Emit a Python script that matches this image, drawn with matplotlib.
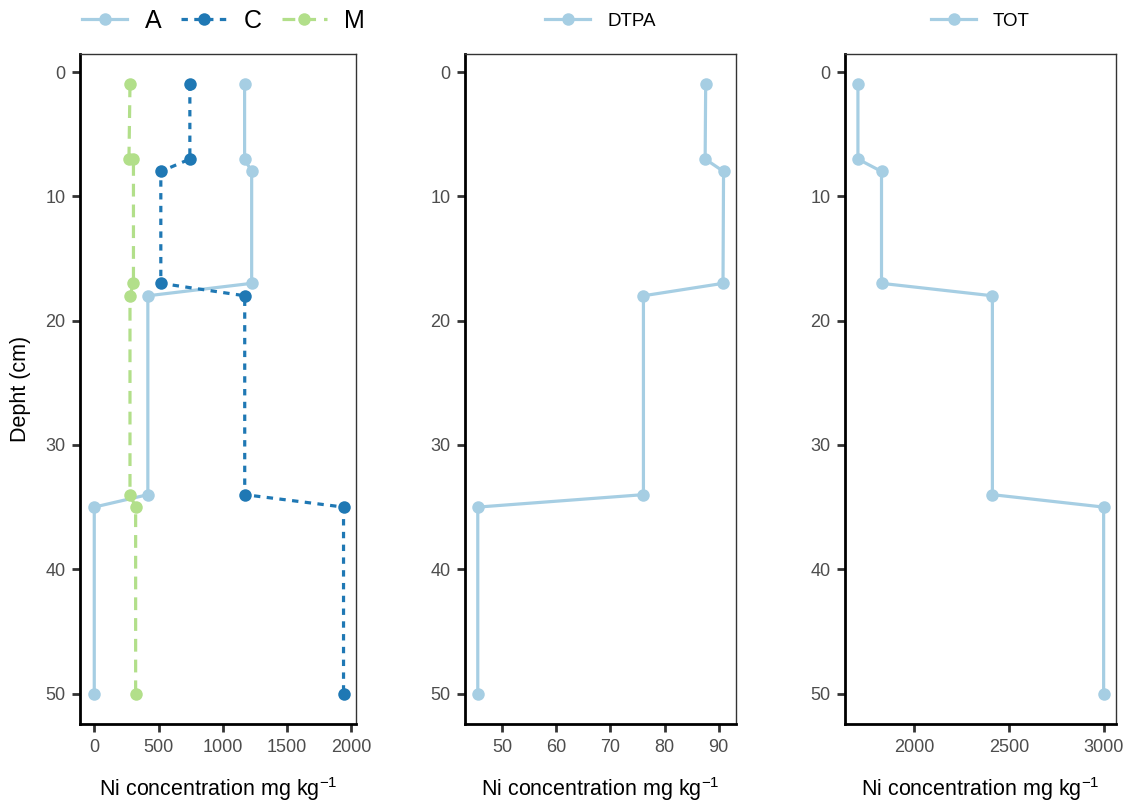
"""Ni concentration depth profiles: three side-by-side panels (A/C/M, DTPA, TOT)."""

import matplotlib
import matplotlib.pyplot as plt
from matplotlib.lines import Line2D

matplotlib.use("Agg")

plt.rcParams["font.family"] = ["Liberation Sans", "DejaVu Sans"]
plt.rcParams["mathtext.default"] = "regular"

# --- data -----------------------------------------------------------------
depth_a = [1, 7, 8, 17, 18, 34, 35, 50]
conc_a = [1170, 1170, 1225, 1225, 417, 417, 0, 0]

depth_c = [1, 7, 8, 17, 18, 34, 35, 50]
conc_c = [744, 744, 518, 518, 1171, 1171, 1940, 1940]

depth_m = [1, 7, 7, 17, 18, 34, 35, 50]
conc_m = [278, 270, 305, 305, 278, 278, 322, 322]

depth_dtpa = [1, 7, 8, 17, 18, 34, 35, 50]
conc_dtpa = [87.6, 87.5, 90.9, 90.8, 76.1, 76.1, 45.5, 45.5]

depth_tot = [1, 7, 8, 17, 18, 34, 35, 50]
conc_tot = [1706, 1706, 1830, 1830, 2413, 2413, 2998, 2998]

y_ticks = [0, 10, 20, 30, 40, 50]
x_ticks_left = [0, 500, 1000, 1500, 2000]
x_ticks_mid = [50, 60, 70, 80, 90]
x_ticks_right = [2000, 2500, 3000]

LIGHT = "#a6cee3"
DARK = "#1f78b4"
GREEN = "#b2df8a"
XLABEL = "Ni concentration mg kg$^{-1}$"

W, H = 1132, 801
fig = plt.figure(figsize=(W / 100, H / 100), dpi=100)
LEGEND_Y = 1 + 33 / 670


def px_axes(left, right, top=54, bottom=724):
    return fig.add_axes([left / W, (H - bottom) / H, (right - left) / W, (bottom - top) / H])


def style(ax, xticks):
    ax.set_ylim(52.45, -1.45)
    ax.set_yticks(y_ticks)
    ax.set_xticks(xticks)
    ax.tick_params(direction="out", length=5.5, width=2, color="#333333",
                   labelsize=13, labelcolor="#4d4d4d", pad=5)
    for side in ("left", "bottom"):
        ax.spines[side].set_linewidth(2.0)
        ax.spines[side].set_color("black")
    for side in ("top", "right"):
        ax.spines[side].set_linewidth(1.0)
        ax.spines[side].set_color("#333333")
    ax.set_xlabel(XLABEL, fontsize=15.5, labelpad=14)


def profile(ax, x, y, color, dashes=None):
    line, = ax.plot(x, y, color=color, lw=2.3, marker="o", ms=9, mec=color, mew=0)
    if dashes:
        line.set_dashes(dashes)
    return line


# --- left panel: A / C / M ---------------------------------------------------
ax1 = px_axes(80, 356)
profile(ax1, conc_a, depth_a, LIGHT)
profile(ax1, conc_c, depth_c, DARK, dashes=(2.0, 2.0))
profile(ax1, conc_m, depth_m, GREEN, dashes=(4.0, 2.5))
ax1.set_xlim(-111, 2037)
style(ax1, x_ticks_left)
ax1.set_ylabel("Depht (cm)", fontsize=15.5, labelpad=10)

handles = [
    Line2D([], [], color=LIGHT, lw=2.3, marker="o", ms=9, mew=0),
    Line2D([], [], color=DARK, lw=2.3, marker="o", ms=9, mew=0, dashes=(2.0, 2.0)),
    Line2D([], [], color=GREEN, lw=2.3, marker="o", ms=9, mew=0, dashes=(4.0, 2.5)),
]
ax1.legend(handles, ["A", "C", "M"], loc="center", bbox_to_anchor=(0.52, LEGEND_Y),
           ncol=3, frameon=False, fontsize=18, handlelength=1.8, handletextpad=0.7,
           columnspacing=0.8, borderaxespad=0)

# --- middle panel: DTPA -----------------------------------------------------
ax2 = px_axes(465, 736)
profile(ax2, conc_dtpa, depth_dtpa, LIGHT)
ax2.set_xlim(43.14, 93.2)
style(ax2, x_ticks_mid)
ax2.legend(["DTPA"], loc="center", bbox_to_anchor=(0.5, LEGEND_Y), frameon=False,
           fontsize=13.5, handlelength=2.4, handletextpad=0.9, borderaxespad=0)

# --- right panel: TOT -------------------------------------------------------
ax3 = px_axes(845, 1116)
profile(ax3, conc_tot, depth_tot, LIGHT)
ax3.set_xlim(1638, 3063)
style(ax3, x_ticks_right)
ax3.legend(["TOT"], loc="center", bbox_to_anchor=(0.5, LEGEND_Y), frameon=False,
           fontsize=13.5, handlelength=2.4, handletextpad=0.9, borderaxespad=0)

fig.savefig("out.png", dpi=100)
